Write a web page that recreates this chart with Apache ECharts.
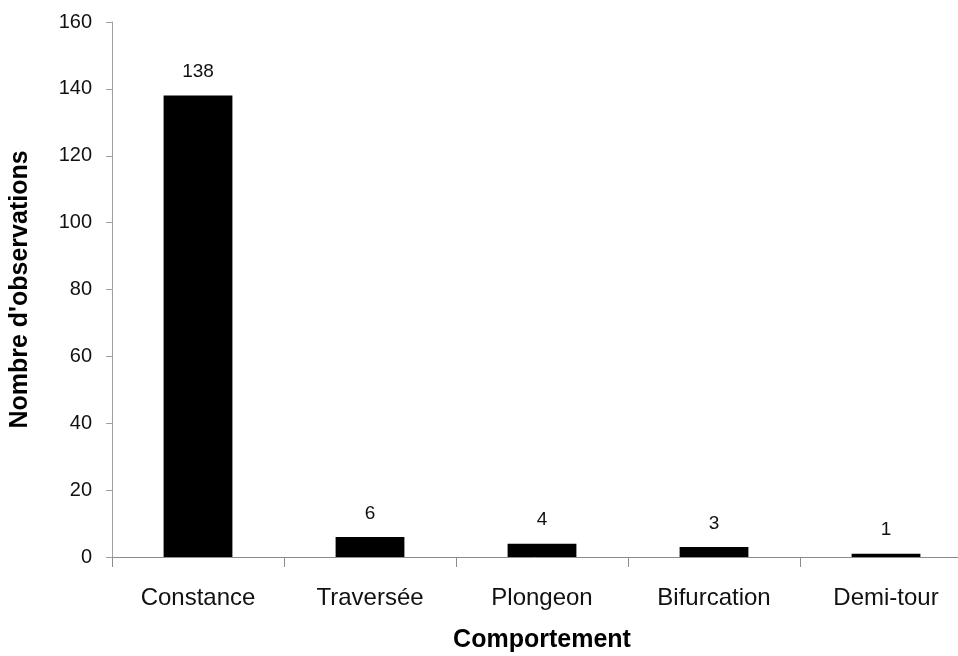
<!DOCTYPE html>
<html>
<head>
<meta charset="utf-8">
<script src="https://cdn.jsdelivr.net/npm/echarts@6/dist/echarts.min.js"></script>
<style>
  html, body { margin: 0; padding: 0; background: #fff; }
  #chart { width: 958px; height: 656px; }
</style>
</head>
<body>
<div id="chart"></div>
<script>
// categories and values
var categories = ['Constance', 'Traversée', 'Plongeon', 'Bifurcation', 'Demi-tour'];
var observations = [138, 6, 4, 3, 1];
var yTicks = { min: 0, max: 160, interval: 20 };

var myChart = echarts.init(document.getElementById('chart'));
var font = 'Liberation Sans, Arial, sans-serif';

var option = {
    animation: false,
    grid: {
        left: 112,
        top: 22,
        bottom: 99,
        width: 860,
        outerBoundsMode: 'none'
    },
    xAxis: {
        type: 'category',
        data: categories,
        name: 'Comportement',
        nameLocation: 'middle',
        nameGap: 71,
        nameTextStyle: { fontFamily: font, fontSize: 25, fontWeight: 'bold', color: '#000' },
        axisLine: { lineStyle: { color: '#8c8c8c', width: 1 } },
        axisTick: { show: true, length: 10, lineStyle: { color: '#8c8c8c' } },
        axisLabel: { fontFamily: font, fontSize: 24, color: '#111', margin: 29 }
    },
    yAxis: {
        type: 'value',
        min: yTicks.min,
        max: yTicks.max,
        interval: yTicks.interval,
        name: "Nombre d'observations",
        nameLocation: 'middle',
        nameGap: 79,
        nameTextStyle: { fontFamily: font, fontSize: 25, fontWeight: 'bold', color: '#000' },
        axisLine: { show: true, lineStyle: { color: '#a0a0a0', width: 1 } },
        axisTick: { show: true, length: 6, lineStyle: { color: '#a0a0a0' } },
        axisLabel: { fontFamily: font, fontSize: 20, color: '#111', margin: 20 },
        splitLine: { show: false }
    },
    series: [
        {
            type: 'bar',
            data: observations,
            barWidth: '40%',
            itemStyle: { color: '#000' },
            label: {
                show: true,
                position: 'top',
                distance: 14,
                fontFamily: font,
                fontSize: 19,
                color: '#111'
            }
        }
    ]
};
myChart.setOption(option);
</script>
</body>
</html>
